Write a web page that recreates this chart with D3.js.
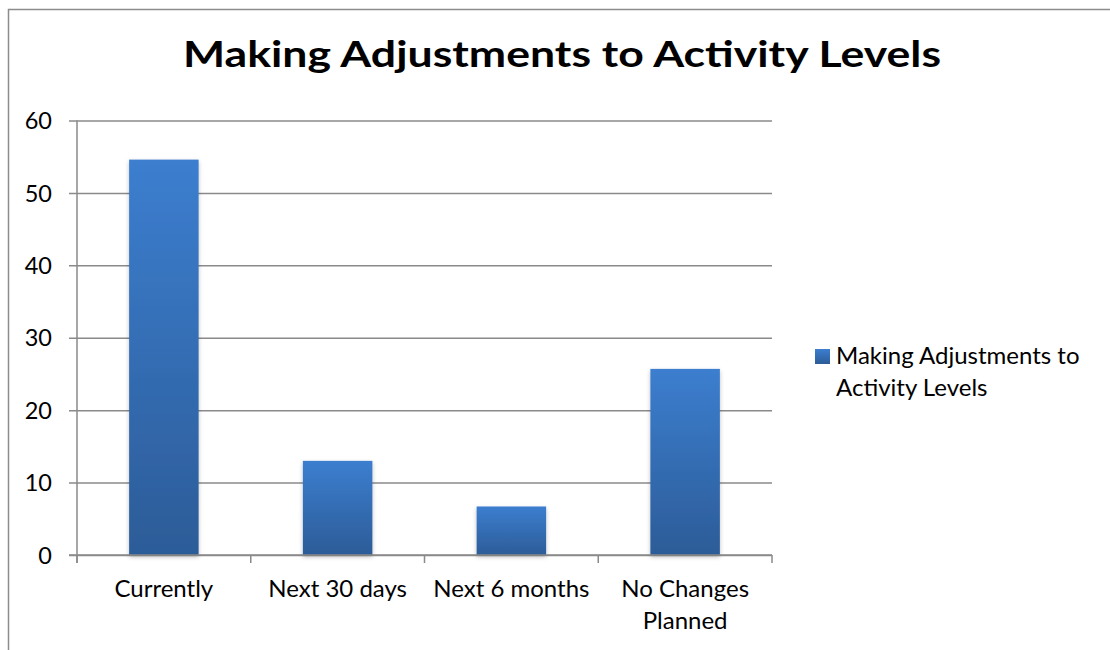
<!DOCTYPE html>
<html>
<head>
<meta charset="utf-8">
<script src="https://cdn.jsdelivr.net/npm/d3@7"></script>
<style>
  html, body { margin: 0; padding: 0; background: #fff; }
  svg { display: block; }
</style>
</head>
<body>
<script>
// Chart data
const categories = ["Currently", "Next 30 days", "Next 6 months", "No Changes Planned"];
const categoryLines = [["Currently"], ["Next 30 days"], ["Next 6 months"], ["No Changes", "Planned"]];
const values = [54.6, 13.0, 6.7, 25.7];
const yTicks = [0, 10, 20, 30, 40, 50, 60];
const seriesName = "Making Adjustments to Activity Levels";
const legendLines = ["Making Adjustments to", "Activity Levels"];
const titleText = "Making Adjustments to Activity Levels";

const W = 1110, H = 650;
const font = "Lato, 'Open Sans', sans-serif";
const gridColor = "#8a8a8a";

const svg = d3.select("body").append("svg")
  .attr("width", W).attr("height", H);

const defs = svg.append("defs");
const grad = defs.append("linearGradient")
  .attr("id", "barFill").attr("x1", 0).attr("y1", 0).attr("x2", 0).attr("y2", 1);
grad.append("stop").attr("offset", "0%").attr("stop-color", "#3c7ecf");
grad.append("stop").attr("offset", "100%").attr("stop-color", "#2c5c98");

const legGrad = defs.append("linearGradient")
  .attr("id", "legFill").attr("x1", 0).attr("y1", 0).attr("x2", 0).attr("y2", 1);
legGrad.append("stop").attr("offset", "0%").attr("stop-color", "#3c7ecf");
legGrad.append("stop").attr("offset", "100%").attr("stop-color", "#2c5c98");

const shadow = defs.append("filter").attr("id", "barShadow")
  .attr("x", "-20%").attr("y", "-10%").attr("width", "140%").attr("height", "130%");
shadow.append("feDropShadow")
  .attr("dx", 0).attr("dy", 2).attr("stdDeviation", 2)
  .attr("flood-color", "#000").attr("flood-opacity", 0.25);

// Outer chart frame
svg.append("rect")
  .attr("x", 8.5).attr("y", 9.5)
  .attr("width", W + 10).attr("height", H + 10)
  .attr("fill", "none").attr("stroke", "#8c8c8c").attr("stroke-width", 1.5);

// Title
svg.append("text")
  .attr("x", 562).attr("y", 67)
  .attr("text-anchor", "middle")
  .attr("font-family", font).attr("font-weight", "bold")
  .attr("font-size", 36)
  .attr("textLength", 758).attr("lengthAdjust", "spacingAndGlyphs")
  .attr("fill", "#000")
  .text(titleText);

const plot = { left: 77, right: 772, top: 120.5, bottom: 555 };

const x = d3.scaleBand()
  .domain(categories)
  .range([plot.left, plot.right])
  .paddingInner(0.6).paddingOuter(0.3);

const y = d3.scaleLinear()
  .domain([0, 60])
  .range([plot.bottom, plot.top]);

// Horizontal gridlines with tick stubs
const yAxis = d3.axisLeft(y)
  .tickValues(yTicks)
  .tickSize(-(plot.right - plot.left))
  .tickPadding(25)
  .tickFormat(d3.format("d"));

const gy = svg.append("g")
  .attr("transform", `translate(${plot.left},0)`)
  .call(yAxis);
gy.select(".domain").remove();
gy.selectAll(".tick line")
  .attr("x1", -8)
  .attr("stroke", gridColor).attr("stroke-width", 1.5);
gy.selectAll(".tick text")
  .attr("font-family", font).attr("font-size", 23.5)
  .attr("fill", "#000").attr("dy", "0.35em");

// Vertical axis line
svg.append("line")
  .attr("x1", plot.left).attr("x2", plot.left)
  .attr("y1", plot.top).attr("y2", plot.bottom + 8)
  .attr("stroke", gridColor).attr("stroke-width", 1.5);

// Bars
svg.append("g").selectAll("rect")
  .data(values)
  .join("rect")
  .attr("x", (d, i) => x(categories[i]))
  .attr("y", d => y(d))
  .attr("width", x.bandwidth())
  .attr("height", d => y(0) - y(d))
  .attr("fill", "url(#barFill)")
  .attr("filter", "url(#barShadow)");

// Category axis line and boundary ticks
svg.append("line")
  .attr("x1", plot.left - 8).attr("x2", plot.right)
  .attr("y1", plot.bottom).attr("y2", plot.bottom)
  .attr("stroke", gridColor).attr("stroke-width", 1.5);

const step = x.step();
const boundaries = d3.range(categories.length + 1).map(i => plot.left + i * step);
svg.append("g").selectAll("line")
  .data(boundaries)
  .join("line")
  .attr("x1", d => d).attr("x2", d => d)
  .attr("y1", plot.bottom).attr("y2", plot.bottom + 8)
  .attr("stroke", gridColor).attr("stroke-width", 1.5);

// Category labels
const labels = svg.append("g").selectAll("text")
  .data(categories)
  .join("text")
  .attr("x", d => x(d) + x.bandwidth() / 2)
  .attr("y", 597)
  .attr("text-anchor", "middle")
  .attr("font-family", font).attr("font-size", 24)
  .attr("fill", "#000");
labels.each(function(d, i) {
  d3.select(this).selectAll("tspan")
    .data(categoryLines[i])
    .join("tspan")
    .attr("x", x(d) + x.bandwidth() / 2)
    .attr("dy", (t, j) => j === 0 ? 0 : 32)
    .text(t => t);
});

// Legend
const legend = svg.append("g").attr("aria-label", seriesName);
legend.append("rect")
  .attr("x", 815).attr("y", 349)
  .attr("width", 15).attr("height", 15)
  .attr("fill", "url(#legFill)");
legend.append("text")
  .attr("font-family", font).attr("font-size", 24)
  .attr("fill", "#000")
  .selectAll("tspan")
  .data(legendLines)
  .join("tspan")
  .attr("x", 836)
  .attr("y", (t, j) => 364 + j * 32)
  .text(t => t);
</script>
</body>
</html>
